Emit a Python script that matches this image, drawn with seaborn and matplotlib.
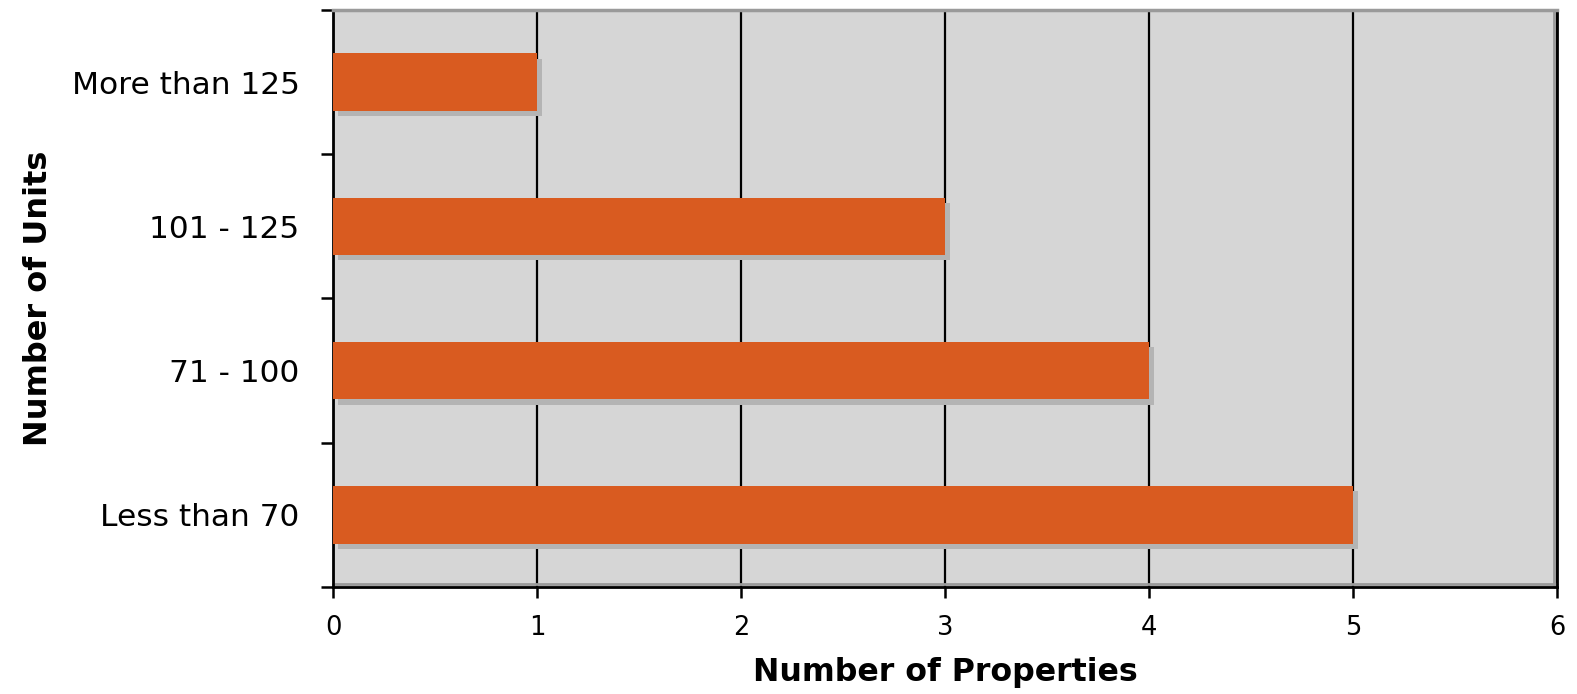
import matplotlib
matplotlib.use("Agg")
import matplotlib.pyplot as plt
import matplotlib.patheffects as pe
import matplotlib.transforms as mtransforms
from matplotlib.lines import Line2D
import seaborn as sns
import pandas as pd

categories = ["More than 125", "101 - 125", "71 - 100", "Less than 70"]
properties = [1, 3, 4, 5]
x_ticks = [0, 1, 2, 3, 4, 5, 6]

df = pd.DataFrame({"units": categories, "count": properties})

sns.set_style("white")
plt.rcParams["font.family"] = ["DejaVu Sans"]
plt.rcParams["text.color"] = "black"
plt.rcParams["axes.labelcolor"] = "black"
plt.rcParams["xtick.color"] = "black"
plt.rcParams["ytick.color"] = "black"

fig = plt.figure(figsize=(15.77, 6.94), dpi=100)
ax = fig.add_axes([0.2112, 0.1542, 0.7761, 0.8314])
ax.set_facecolor("#d6d6d6")

sns.barplot(data=df, x="count", y="units", order=categories, orient="h",
            color="#d95b20", saturation=1, width=0.4, ax=ax, zorder=3)
for bar in ax.patches:
    bar.set_edgecolor("none")
    bar.set_path_effects([
        pe.SimplePatchShadow(offset=(3.8, -3.8), shadow_rgbFace="#b4b4b4", alpha=1),
        pe.Normal(),
    ])

ax.set_xlim(0, 6)
ax.set_ylim(3.5, -0.5)
ax.set_xticks(x_ticks)
ax.set_xticklabels([str(t) for t in x_ticks], fontsize=18.5)
ax.xaxis.grid(True, color="black", linewidth=1.6, zorder=1)
ax.set_axisbelow(True)

# category separators as outward ticks on the y axis
ax.set_yticks([i - 0.5 for i in range(len(categories) + 1)], minor=True)
ax.tick_params(axis="y", which="major", left=False, length=0, pad=24, labelsize=22.5)
ax.tick_params(axis="y", which="minor", left=True, length=9, width=1.8,
               color="black", direction="out")
ax.tick_params(axis="x", which="major", bottom=True, length=8, width=1.8, color="black",
               direction="out", pad=12)

for side in ("left", "bottom", "right"):
    ax.spines[side].set_visible(True)
    ax.spines[side].set_color("black")
    ax.spines[side].set_linewidth(2)
ax.spines["top"].set_visible(True)
ax.spines["top"].set_color("#9a9a9a")
ax.spines["top"].set_linewidth(2.5)

# soft inner border along the bottom and right edges of the plot area
off_up = mtransforms.offset_copy(ax.transAxes, fig=fig, x=0, y=2.2, units="points")
off_left = mtransforms.offset_copy(ax.transAxes, fig=fig, x=-2.2, y=0, units="points")
ax.add_line(Line2D([0, 1], [0, 0], transform=off_up, color="#9a9a9a",
                   linewidth=2, zorder=2, clip_on=False))
ax.add_line(Line2D([1, 1], [0, 1], transform=off_left, color="#9a9a9a",
                   linewidth=2, zorder=2, clip_on=False))

ax.set_xlabel("Number of Properties", fontsize=22.8, fontweight="bold", labelpad=12)
ax.set_ylabel("Number of Units", fontsize=23, fontweight="bold", labelpad=13)

fig.savefig("out.png", dpi=100)
